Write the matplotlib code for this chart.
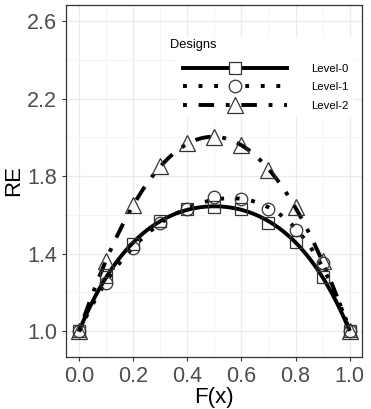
import matplotlib
matplotlib.use("Agg")
import matplotlib.pyplot as plt
import numpy as np
from matplotlib.ticker import MultipleLocator

fx = [0.0, 0.1, 0.2, 0.3, 0.4, 0.5, 0.6, 0.7, 0.8, 0.9, 1.0]
level0 = [1.00, 1.28, 1.45, 1.57, 1.63, 1.64, 1.63, 1.56, 1.46, 1.28, 1.00]
level1 = [1.00, 1.25, 1.43, 1.56, 1.63, 1.69, 1.68, 1.63, 1.52, 1.35, 1.00]
level2 = [1.00, 1.36, 1.65, 1.85, 1.97, 2.00, 1.96, 1.83, 1.64, 1.36, 1.00]
labels = ["Level-0", "Level-1", "Level-2"]

markers = ["s", "o", "^"]
msizes = [9, 9, 11.5]
styles = ["-", (0, (1, 3)), (0, (1, 3, 4, 3))]

plt.rcParams["font.family"] = ["Liberation Sans", "DejaVu Sans"]

fig = plt.figure(figsize=(3.71, 4.09), dpi=100)
ax = fig.add_axes([0.178, 0.127, 0.798, 0.861])

grid_x = np.linspace(0, 1, 200)
for y, lab, m, ms, ls in zip([level0, level1, level2], labels, markers, msizes, styles):
    # smoothed curve through the points, like geom_smooth
    coef = np.polyfit(fx, y, 4)
    ax.plot(grid_x, np.polyval(coef, grid_x), color="black", lw=2.8,
            linestyle=ls, solid_capstyle="butt", dash_capstyle="butt", zorder=3)
    ax.plot(fx, y, linestyle="none", marker=m, ms=ms, mfc="none",
            mec="#333333", mew=0.9, zorder=4)
    ax.plot([], [], color="black", lw=2.8, linestyle=ls, marker=m, ms=ms,
            mfc="white", mec="#333333", mew=0.9, label=lab,
            dash_capstyle="butt")

ax.set_xlim(-0.048, 1.046)
ax.set_ylim(0.866, 2.683)
ax.xaxis.set_major_locator(MultipleLocator(0.2))
ax.xaxis.set_minor_locator(MultipleLocator(0.1))
ax.yaxis.set_major_locator(MultipleLocator(0.4))
ax.yaxis.set_minor_locator(MultipleLocator(0.2))
ax.set_yticks([1.0, 1.4, 1.8, 2.2, 2.6])
ax.grid(which="major", color="#EBEBEB", lw=0.9)
ax.grid(which="minor", color="#F3F3F3", lw=0.6)
ax.set_axisbelow(True)
ax.tick_params(which="major", labelsize=15.5, labelcolor="#4D4D4D", color="#333333",
               length=3, width=0.8)
ax.tick_params(which="minor", length=0)
for s in ax.spines.values():
    s.set_color("#333333")
    s.set_linewidth(0.9)

ax.set_xlabel("F(x)", fontsize=16, labelpad=0)
ax.set_ylabel("RE", fontsize=16, labelpad=2)

# legend with an empty title line; the title text is placed by hand
leg = ax.legend(loc="upper left", bbox_to_anchor=(0.355, 0.925), title=" ",
                fontsize=8.2, title_fontsize=9.3, handlelength=9.2, frameon=True,
                edgecolor="none", facecolor="white", framealpha=1, fancybox=False,
                labelspacing=0.78, handletextpad=2.1, borderpad=0.5)
leg.set_zorder(5)
ax.text(0.352, 0.887, "Designs", transform=ax.transAxes, fontsize=9.3,
        ha="left", va="center", zorder=6)

fig.savefig("out.png", dpi=100)
